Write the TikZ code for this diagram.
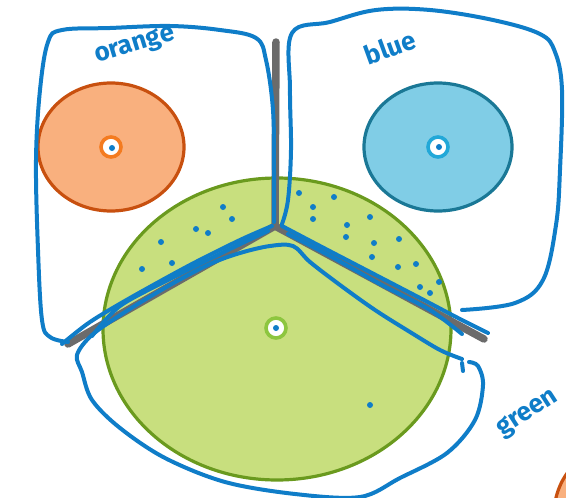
\documentclass[tikz,border=0pt]{standalone}
\usepackage{fontspec}
\setmainfont{Fira Sans}
\definecolor{pen}{HTML}{0F7DC8}
\definecolor{edge}{HTML}{6B6B6B}
\definecolor{ofill}{HTML}{F9B07E}
\definecolor{oline}{HTML}{C8500F}
\definecolor{oring}{HTML}{F47B20}
\definecolor{bfill}{HTML}{80CDE6}
\definecolor{bline}{HTML}{1A7896}
\definecolor{bring}{HTML}{22A8D8}
\definecolor{gfill}{HTML}{C8DF7E}
\definecolor{gline}{HTML}{6A9A1E}
\definecolor{gring}{HTML}{8DC63F}
\tikzset{
  ink/.style={draw=pen, line width=4pt, line cap=round, line join=round},
  vedge/.style={draw=edge, line width=7.5pt, line cap=round, line join=round},
  hand/.style={text=pen, font=\fontsize{26}{26}\selectfont\bfseries},
}
\begin{document}
\begin{tikzpicture}[x=1pt,y=-1pt]
\useasboundingbox (0,0) rectangle (566,498);
\clip (0,0) rectangle (566,498);
% partial orange site bottom right
\draw[fill=ofill, draw=oline, line width=3.2pt] (612,515) ellipse (58 and 66);
% cells
\draw[fill=ofill, draw=oline, line width=3.2pt] (111,147) ellipse (73 and 64);
\draw[fill=bfill, draw=bline, line width=3.2pt] (438,147) ellipse (74 and 64);
\draw[fill=gfill, draw=gline, line width=3.2pt] (277,329) ellipse (174 and 151);
% sites
\node[circle, draw=oring, fill=white, line width=3.6pt, minimum size=20pt, inner sep=0pt] (so) at (111,147) {};
\node[circle, draw=bring, fill=white, line width=3.6pt, minimum size=20pt, inner sep=0pt] (sb) at (438,147) {};
\node[circle, draw=gring, fill=white, line width=3.6pt, minimum size=20pt, inner sep=0pt] (sg) at (276,328) {};
\foreach \p in {(112,148),(439,147),(276,328)} \fill[pen] \p circle (3);
% dots
\foreach \p in {(223,207),(232,219),(196,229),(208,233),(161,242),(142,269),(172,263),
  (299,193),(334,197),(313,207),(313,219),(347,225),(370,217),(346,237),(374,243),(399,239),
  (372,257),(398,267),(416,264),(439,282),(420,287),(430,293),(370,405)}
  \fill[pen] \p circle (3);
% voronoi edges
\coordinate (J) at (275,226);
\coordinate (T) at (276,42);
\coordinate (L) at (68,344);
\coordinate (R) at (484,339);
\draw[vedge] (T) -- (J) -- (L);
\draw[vedge] (J) -- (R);
% orange region outline
\draw[ink] plot[smooth, tension=0.6] coordinates {(274,222) (274,170) (273,110) (266,60) (256,38)
  (220,30) (170,26) (110,28) (62,30) (48,42) (40,90) (36,160) (38,250) (42,320) (50,337) (68,342)};
\draw[ink] plot[smooth, tension=0.5] coordinates {(272,226) (240,240) (190,265) (130,298) (90,322) (62,344)};
\draw[ink] plot[smooth, tension=0.5] coordinates {(268,231) (230,249) (170,279) (120,306) (92,336)};
% blue region outline
\draw[ink] plot[smooth, tension=0.6] coordinates {(282,224) (288,200) (291,150) (290,90) (292,33)
  (330,22) (376,10) (430,10) (493,20) (540,34) (555,52) (562,90) (560,170) (556,225) (543,280) (515,303) (462,310)};
\draw[ink] plot[smooth, tension=0.5] coordinates {(282,226) (320,246) (370,272) (420,298) (458,318) (488,333)};
\draw[ink] plot[smooth, tension=0.5] coordinates {(288,234) (330,256) (380,284) (430,310) (462,334)};
% green region outline
\draw[ink] plot[smooth, tension=0.55] coordinates {(462,359) (440,350) (410,332) (375,310) (340,285) (310,262) (293,246)
  (270,246) (240,253) (210,264) (170,285) (125,312) (92,335) (77,355)
  (82,372) (92,400) (120,428) (165,458) (225,482) (295,494) (360,497) (400,478) (447,453) (475,420) (483,385) (478,366) (469,362)};
\draw[ink] (462,363) -- (463,371);
% labels
\node[hand, rotate=17] (lo) at (135,46) {orange};
\node[hand, rotate=20] (lb) at (390,47) {blue};
\node[hand, rotate=33] (lg) at (528,414) {green};
\end{tikzpicture}
\end{document}
